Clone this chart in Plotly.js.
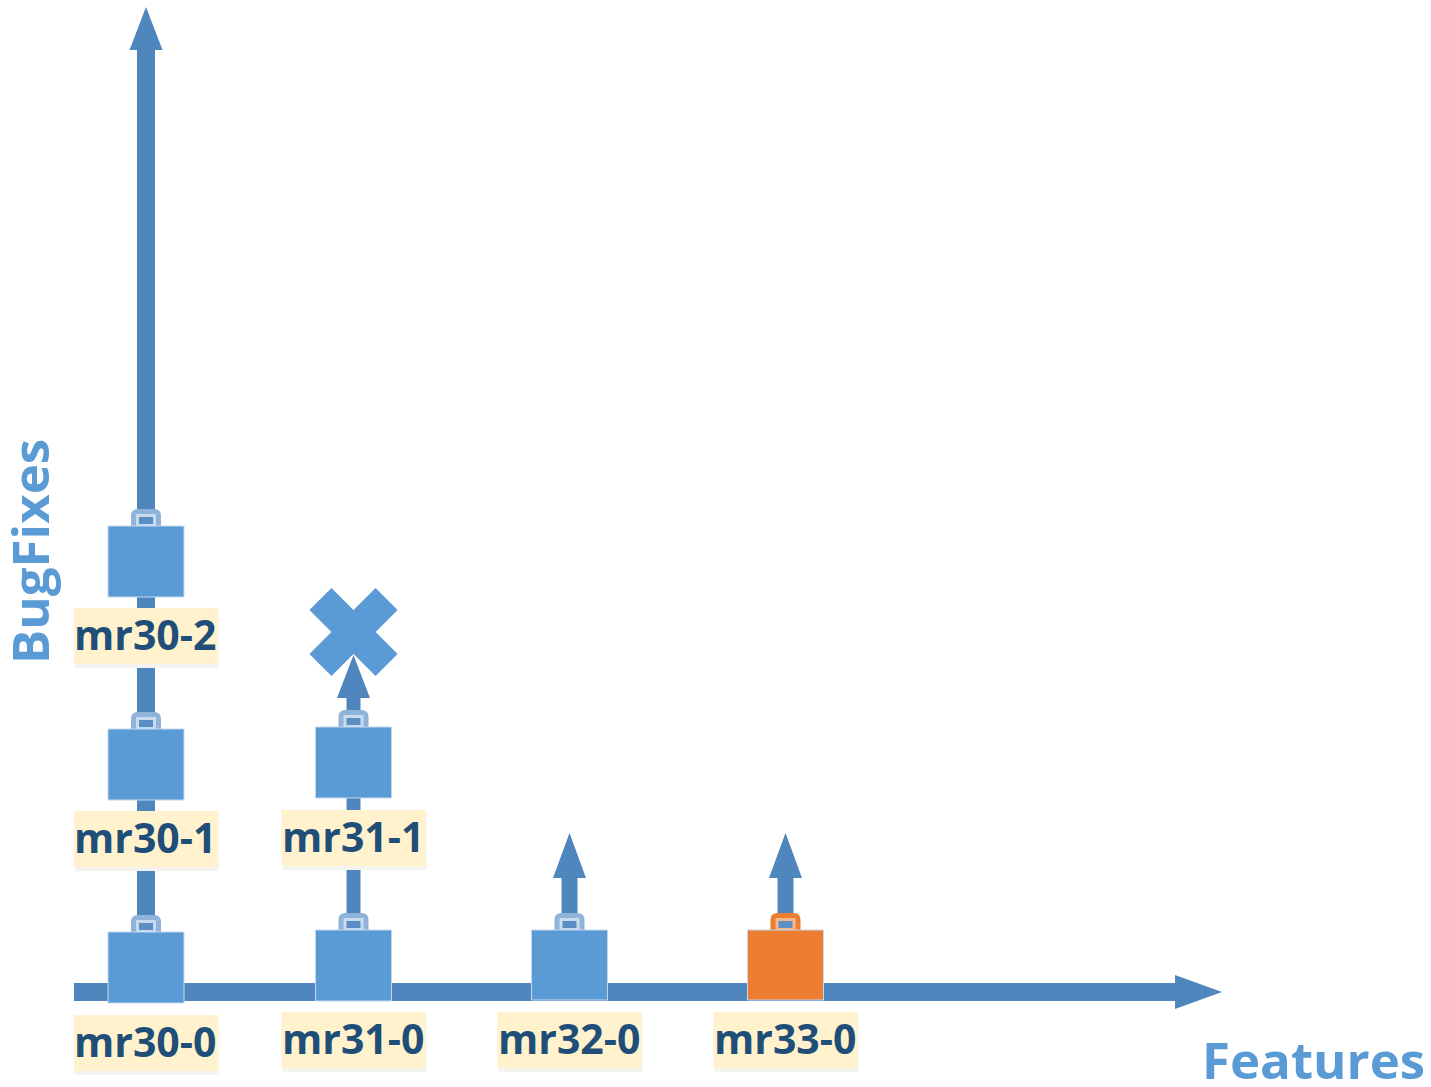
<!DOCTYPE html>
<html><head><meta charset="utf-8">
<script src="https://cdn.plot.ly/plotly-3.0.1.min.js"></script>
<style>html,body{margin:0;padding:0;background:#fff;overflow:hidden}#c{width:1431px;height:1087px}</style>
</head><body><div id="c"></div>
<script>
// Values (axes run in picture units, y downward)
const releaseNames = ['mr30-0','mr30-1','mr30-2','mr31-0','mr31-1','mr32-0','mr33-0'];
const releaseX     = [146,146,146,353.5,353.5,569.5,785.5];
const boxTop       = [932,729,526,930,727,930,930];
const boxBottom    = [1003,800,597,1001,798,1000,1000];
const labelY       = [1043,839,636,1040,838,1040,1040];
const boxColors    = ['#5b9bd5','#5b9bd5','#5b9bd5','#5b9bd5','#5b9bd5','#5b9bd5','#ed7d31'];

const arrowX    = [146,353.5,569.5,785.5];
const arrowFrom = [930,930,930,930];
const arrowBase = [50,698,878,878];
const arrowTip  = [7,655,833,833];
const featureAxisY = [992];
const featureAxisStart = [74];
const featureAxisBase = [1178];
const featureAxisTip = [1222];
const cancelX = [353.5];
const cancelY = [632];
const xTitle = 'Features';
const yTitle = 'BugFixes';

const shaft = '#4f86bd';
const traces = [];
traces.push({type:'scatter',mode:'lines',x:[featureAxisStart[0],featureAxisBase[0]],y:[featureAxisY[0],featureAxisY[0]],
  line:{color:shaft,width:18},hoverinfo:'skip',showlegend:false});
arrowX.forEach((x,i)=>traces.push({type:'scatter',mode:'lines',x:[x,x],y:[arrowFrom[i],arrowBase[i]],
  line:{color:shaft,width:i===1?14:(i===0?18:16)},hoverinfo:'skip',showlegend:false}));
traces.push({type:'scatter',mode:'markers',x:cancelX,y:cancelY,
  marker:{symbol:'x',size:78,color:'#5b9bd5',line:{width:0}},hoverinfo:'skip',showlegend:false});

const shapes = [];
const rect=(x0,y0,x1,y1,fill,line,lw)=>({type:'rect',xref:'x',yref:'y',x0,y0,x1,y1,layer:'above',
  fillcolor:fill,line:{color:line||fill,width:lw||0}});
const path=(d,fill)=>({type:'path',xref:'x',yref:'y',path:d,layer:'above',fillcolor:fill,line:{width:0}});

// arrow heads
arrowX.forEach((x,i)=>shapes.push(path(`M${x},${arrowTip[i]} L${x+16.5},${arrowBase[i]} L${x-16.5},${arrowBase[i]} Z`,shaft)));
shapes.push(path(`M${featureAxisTip[0]},${featureAxisY[0]} L${featureAxisBase[0]-3},${featureAxisY[0]-17} L${featureAxisBase[0]-3},${featureAxisY[0]+17} Z`,shaft));

// handles and boxes
releaseX.forEach((x,i)=>{
  const t=boxTop[i],b=boxBottom[i],c=boxColors[i];
  const orange=c!=='#5b9bd5';
  shapes.push(path(`M${x-15},${t} L${x-15},${t-10} Q${x-15},${t-17} ${x-8},${t-17} L${x+8},${t-17} Q${x+15},${t-17} ${x+15},${t-10} L${x+15},${t} Z`,orange?'#ed7d31':'#8fb3d9'));
  shapes.push(rect(x-10,t-12,x+10,t,orange?'#f6b88e':'#c9dbee'));
  shapes.push(rect(x-7,t-9,x+7,t-2,'#5b8fc4'));
  shapes.push(rect(x-38,t,x+38,b,c,'#c4d8ec',1));
});

// label soft shadows and backgrounds
releaseNames.forEach((n,i)=>{
  const x=releaseX[i],y=labelY[i];
  shapes.push(rect(x-71,y-26,x+73,y+32,'#f4f3f0'));
  shapes.push(rect(x-72,y-28,x+72,y+28,'#fff2cc'));
});

const annotations = releaseNames.map((n,i)=>({xref:'x',yref:'y',x:releaseX[i]-1,y:labelY[i]-2,text:n,showarrow:false,
  xanchor:'center',yanchor:'middle',font:{family:'Open Sans',size:41,color:'#1f4e79',weight:700}}));
annotations.push({xref:'x',yref:'y',x:1313,y:1059,text:xTitle,showarrow:false,xanchor:'center',yanchor:'middle',
  font:{family:'Open Sans',size:51,color:'#5b9bd5',weight:700}});
annotations.push({xref:'x',yref:'y',x:29,y:552,text:yTitle,textangle:-90,showarrow:false,xanchor:'center',yanchor:'middle',
  font:{family:'Open Sans',size:51,color:'#5b9bd5',weight:700}});

Plotly.newPlot('c',traces,{
  width:1431,height:1087,margin:{l:0,r:0,t:0,b:0},
  paper_bgcolor:'#ffffff',plot_bgcolor:'#ffffff',showlegend:false,
  xaxis:{range:[0,1431],visible:false,fixedrange:true},
  yaxis:{range:[1087,0],visible:false,fixedrange:true},
  shapes,annotations
},{staticPlot:true,displayModeBar:false});
</script></body></html>
